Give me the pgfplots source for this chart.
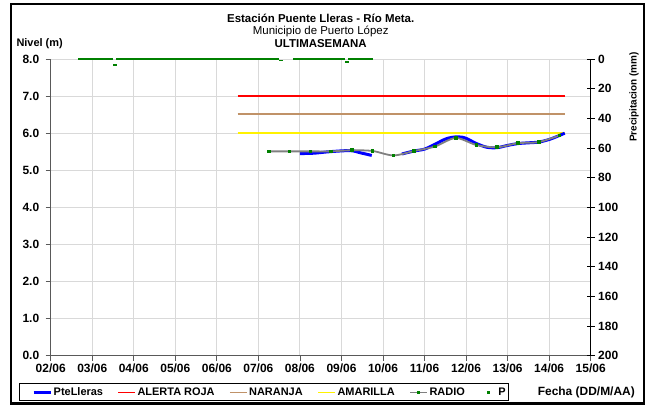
\documentclass[border=0pt]{standalone}
\usepackage{pgfplots}
\pgfplotsset{compat=1.18}
\usepackage{fontspec}
\setmainfont{Liberation Sans}
\definecolor{naranja}{RGB}{192,146,104}
\definecolor{pgreen}{RGB}{0,128,0}
\definecolor{radiogray}{RGB}{128,128,128}
\definecolor{gridgray}{RGB}{217,217,217}
\newcommand{\fs}[1]{\fontsize{#1}{#1}\selectfont}
\begin{document}
\begin{tikzpicture}
\useasboundingbox (0,0) rectangle (646bp,405bp);
\pgfplotsset{every axis/.append style={
  scale only axis, width=540bp, height=296.7bp,
  at={(50.7bp,49.3bp)}, anchor=south west,
  xmin=0, xmax=312,
  /pgf/number format/assume math mode=true}}
\begin{axis}[
  ymin=0, ymax=8,
  axis x line*=bottom, axis y line*=left,
  axis line style={line width=1bp, black!65, -},
  xtick={0,24,...,312},
  xticklabels={02/06,03/06,04/06,05/06,06/06,07/06,08/06,09/06,10/06,11/06,12/06,13/06,14/06,15/06},
  ytick={0,1,...,8},
  yticklabels={0.0,1.0,2.0,3.0,4.0,5.0,6.0,7.0,8.0},
  grid=major, major grid style={gridgray, line width=1bp},
  tick style={line width=0.8bp, black!65},
  tick align=outside, major tick length=5bp,
  ticklabel style={font=\bfseries\fs{12}},
  yticklabel style={xshift=-3bp},
]
\addplot[red, line width=1.5bp] coordinates {(108,7) (297,7)};
\addplot[naranja, line width=1.5bp] coordinates {(108,6.52) (297,6.52)};
\addplot[yellow, line width=1.8bp] coordinates {(108,6.01) (297,6.01)};
\addplot[blue, line width=3bp, smooth] coordinates {(144,5.45) (152,5.46) (161,5.50) (173,5.53) (179,5.47) (185.5,5.40)};
\addplot[blue, line width=3bp, smooth] coordinates {(203,5.44) (210,5.52) (216,5.57) (222,5.70) (227,5.82) (230,5.87) (234,5.90) (238,5.89) (241,5.84) (246,5.72) (252,5.62) (258,5.61) (264,5.67) (270,5.72) (276,5.74) (282,5.76) (288,5.83) (293,5.92) (297,6.00)};
\addplot[radiogray, line width=1.8bp, smooth, mark=square*, mark size=0.9bp, mark options={pgreen, draw=pgreen}] coordinates {(126,5.51) (138,5.51) (150,5.51) (162,5.51) (174,5.54) (186,5.52) (198,5.40) (210,5.52) (222,5.64) (234,5.87) (246,5.68) (258,5.62) (270,5.73) (282,5.76) (294,5.94)};
\end{axis}
\begin{axis}[
  ymin=0, ymax=200, y dir=reverse,
  axis x line=none, axis y line*=right,
  axis line style={line width=1.2bp, black, -},
  ytick={0,20,...,200},
  tick style={line width=0.8bp, black},
  tick align=center, major tick length=8bp,
  ticklabel style={font=\bfseries\fs{12}},
  clip=false,
  legend columns=6,
  legend image code/.code={\path (0bp,0bp) (17bp,0bp);
    \draw[mark repeat=2,mark phase=2,#1] plot coordinates {(0bp,0bp) (8.5bp,0bp) (17bp,0bp)};},
  legend style={draw=none, fill=none, at={(-0.0346,-0.124)}, anchor=west,
    font=\bfseries\fs{11}, inner sep=0pt, nodes={inner sep=1.5bp},
    /tikz/every even column/.append style={column sep=13bp}},
]
\addlegendimage{blue, line width=3bp}
\addlegendentry{PteLleras}
\addlegendimage{red, line width=1.5bp}
\addlegendentry{ALERTA ROJA}
\addlegendimage{naranja, line width=1.5bp}
\addlegendentry{NARANJA}
\addlegendimage{yellow, line width=1.8bp}
\addlegendentry{AMARILLA}
\addlegendimage{radiogray, line width=1.8bp, mark=square*, mark size=0.9bp, mark options={pgreen, draw=pgreen}}
\addlegendentry{RADIO}
\addplot[only marks, mark=-, mark size=1.9bp, pgreen, mark options={line width=1.8bp},
  legend image code/.code={\path (0bp,0bp) (17bp,0bp);
    \fill[pgreen] (7.7bp,-0.8bp) rectangle (9.3bp,0.8bp);}] coordinates {
(17,0) (19,0) (21,0) (23,0) (25,0) (27,0) (29,0) (31,0) (33,0) (35,0) (37,4) (39,0) (41,0) (43,0) (45,0) (47,0) (49,0) (51,0) (53,0) (55,0)
(57,0) (59,0) (61,0) (63,0) (65,0) (67,0) (69,0) (71,0) (73,0) (75,0) (77,0) (79,0) (81,0) (83,0) (85,0) (87,0) (89,0) (91,0) (93,0) (95,0)
(97,0) (99,0) (101,0) (103,0) (105,0) (107,0) (109,0) (111,0) (113,0) (115,0) (117,0) (119,0) (121,0) (123,0) (125,0) (127,0) (129,0) (131,0) (133,1)
(141,0) (143,0) (145,0) (147,0) (149,0) (151,0) (153,0) (155,0) (157,0) (159,0) (161,0) (163,0) (165,0) (167,0) (169,0) (171,2) (173,0) (175,0)
(177,0) (179,0) (181,0) (183,0) (185,0)};
\addlegendentry{P}
\end{axis}
\draw[line width=1bp] (19bp,4bp) rectangle (508bp,21bp);
\draw[line width=2.5bp] (11bp,1.5bp) rectangle (644bp,401bp);
\node[anchor=east, font=\bfseries\fs{12}, inner sep=0] at (635bp,12.5bp) {Fecha (DD/M/AA)};
\node[anchor=east, font=\bfseries\fs{11}, inner sep=0] at (63bp,361bp) {Nivel (m)};
\node[font=\bfseries\fs{11.5}, inner sep=0] at (320.7bp,387bp) {Estación Puente Lleras - Río Meta.};
\node[font=\fs{11.5}, inner sep=0] at (320.7bp,374bp) {Municipio de Puerto López};
\node[font=\bfseries\fs{11.5}, inner sep=0] at (320.7bp,361bp) {ULTIMASEMANA};
\node[rotate=90, font=\bfseries\fs{10}, inner sep=0] at (634bp,308bp) {Precipitacion (mm)};
\end{tikzpicture}
\end{document}
